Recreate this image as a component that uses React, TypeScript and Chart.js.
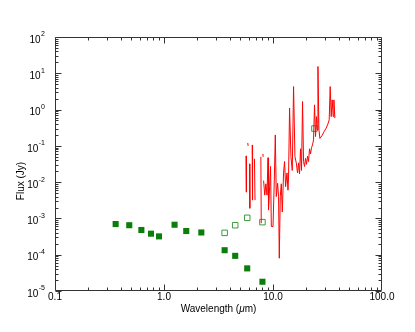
import React, { useEffect, useRef } from "react";
import { Chart, registerables } from "chart.js";

Chart.register(...registerables);

// Filled photometry (µm, Jy)
const photWave = [0.36, 0.48, 0.62, 0.76, 0.9, 1.25, 1.6, 2.2, 3.6, 4.5, 5.8, 8.0];
const photFlux = [7.0e-4, 6.5e-4, 4.8e-4, 3.8e-4, 3.2e-4, 6.7e-4, 4.5e-4, 4.1e-4, 1.33e-4, 9.3e-5, 4.2e-5, 1.8e-5];

// Open photometry (µm, Jy)
const openWave = [3.6, 4.5, 5.8, 8.0, 24.0];
const openFlux = [4.0e-4, 6.5e-4, 1.04e-3, 7.9e-4, 0.3];

// Spectrum (µm, Jy); null = gap
const specWave = [
  5.66, 5.7, 5.78, 5.87, 5.91, 6.0, 6.09, 6.13, 6.3, 6.44, 6.49, 6.6, 6.76, 6.84, 7.3,
  7.74, 7.8, 7.95, 8.08, 8.12, 8.16,
  8.2, 8.4, 8.6, 8.81, 9.0, 9.1, 9.31, 9.5, 9.65, 10.0, 10.28, 10.5, 10.72, 11.02, 11.25,
  11.42, 11.66, 11.91, 12.17, 12.5, 12.77, 13.05, 13.44, 13.72, 13.89, 14.19, 14.61, 15.02,
  15.44, 15.9, 16.35, 16.8, 17.16, 17.52, 17.89, 18.27, 18.67, 19.06, 19.47, 19.88, 20.31,
  20.74, 21.18, 21.63, 22.1, 22.57, 23.05, 23.54, 24.04, 24.55, 25.08, 25.45, 25.84, 26.39,
  26.95, 28.11, 29.5, 30.77, 31.89, 32.78, 33.47, 34.19, 34.92, 35.67, 36.2, 36.97,
];
const specFlux = [
  0.053, 0.0053, null, 0.12, 0.1, null, 0.032, 0.0019, null, 0.106, 0.0032, null, 0.044, 0.0032, null,
  0.05, 0.00074, null, 0.06, 0.05, null,
  0.011, 0.0044, 0.009, 0.0044, 0.047, 0.0017, 0.0075, 0.027, 0.0006, 0.0006, 0.0114, 0.2, 0.004, 0.0093, 0.004,
  8e-5, 0.004, 0.009, 0.0015, 0.018, 0.037, 0.0075, 0.018, 0.006, 0.0139, 1.11, 0.05, 0.021,
  4.3, 0.05, 0.034, 0.018, 0.034, 0.0169, 0.083, 0.021, 1.66, 0.037, 0.027, 0.045, 0.031,
  0.052, 0.037, 0.083, 0.06, 0.09, 0.106, 0.146, 1.35, 0.18, 0.64, 0.275, 15.4, 0.275,
  0.16, 0.19, 0.25, 0.31, 0.4, 0.52, 4.3, 0.64, 1.85, 0.64, 1.85, 0.58,
];

const xTickValues = [0.1, 1, 10, 100];
const xTickLabels = ["0.1", "1.0", "10.0", "100.0"];
const yTickExponents = [2, 1, 0, -1, -2, -3, -4, -5];

const FONT = '"Liberation Sans", Arial, Helvetica, sans-serif';

export default function App() {
  const ref = useRef<HTMLCanvasElement>(null);

  useEffect(() => {
    const frame = {
      id: "idlFrame",
      afterDatasetsDraw(chart: any) {
        const { ctx, chartArea: a, scales } = chart;
        const xs = scales.x;
        const ys = scales.y;
        ctx.save();
        ctx.strokeStyle = "#333";
        ctx.lineWidth = 1;
        const L = Math.round(a.left) + 0.5;
        const R = Math.round(a.right) - 0.5;
        const T = Math.round(a.top) + 0.5;
        const B = Math.round(a.bottom) - 0.5;
        ctx.beginPath();
        ctx.rect(L, T, R - L, B - T);
        ctx.stroke();

        ctx.beginPath();
        for (let d = -1; d <= 1; d++) {
          for (let k = 1; k <= 9; k++) {
            const v = k * Math.pow(10, d);
            const px = Math.round(xs.getPixelForValue(v)) + 0.5;
            const len = k === 1 ? 6 : 3;
            ctx.moveTo(px, B);
            ctx.lineTo(px, B - len);
            ctx.moveTo(px, T);
            ctx.lineTo(px, T + len);
          }
        }
        for (let d = -5; d <= 1; d++) {
          for (let k = 1; k <= 9; k++) {
            const v = k * Math.pow(10, d);
            const py = Math.round(ys.getPixelForValue(v)) + 0.5;
            const len = k === 1 ? 6 : 3;
            ctx.moveTo(L, py);
            ctx.lineTo(L + len, py);
            ctx.moveTo(R, py);
            ctx.lineTo(R - len, py);
          }
        }
        ctx.stroke();

        ctx.fillStyle = "#000";
        // x tick labels
        ctx.font = `10px ${FONT}`;
        ctx.textAlign = "center";
        ctx.textBaseline = "middle";
        xTickValues.forEach((v, i) => {
          ctx.fillText(xTickLabels[i], xs.getPixelForValue(v), a.bottom + 6.5);
        });

        // y tick labels 10^n
        const right = a.left - 10;
        yTickExponents.forEach((e) => {
          const py = ys.getPixelForValue(Math.pow(10, e));
          const expText = String(e);
          ctx.font = `7px ${FONT}`;
          const wExp = ctx.measureText(expText).width;
          ctx.font = `10px ${FONT}`;
          const wBase = ctx.measureText("10").width;
          ctx.textAlign = "left";
          ctx.textBaseline = "middle";
          ctx.fillText("10", right - wExp - wBase - 0.5, py + 3);
          ctx.font = `7px ${FONT}`;
          ctx.fillText(expText, right - wExp, py - 2.5);
        });

        // x title with italic mu
        const parts = [
          { t: "Wavelength (", f: `10px ${FONT}` },
          { t: "\u03bc", f: `italic 10px ${FONT}` },
          { t: "m)", f: `10px ${FONT}` },
        ];
        let total = 0;
        parts.forEach((p) => {
          ctx.font = p.f;
          total += ctx.measureText(p.t).width;
        });
        let cx = (a.left + a.right) / 2 - total / 2;
        ctx.textAlign = "left";
        parts.forEach((p) => {
          ctx.font = p.f;
          ctx.fillText(p.t, cx, a.bottom + 18.5);
          cx += ctx.measureText(p.t).width;
        });

        // y title
        ctx.save();
        ctx.translate(21, 181);
        ctx.rotate(-Math.PI / 2);
        ctx.font = `10px ${FONT}`;
        ctx.textAlign = "center";
        ctx.textBaseline = "middle";
        ctx.fillText("Flux (Jy)", 0, 0);
        ctx.restore();

        ctx.restore();
      },
    };

    const chart = new Chart(ref.current as HTMLCanvasElement, {
      type: "line",
      data: {
        datasets: [
          {
            label: "Spectrum",
            data: specWave.map((w, i) => ({ x: w, y: specFlux[i] as any })),
            borderColor: "rgb(255,0,0)",
            borderWidth: 1,
            pointRadius: 0,
            spanGaps: false,
            tension: 0,
            fill: false,
          },
          {
            label: "Photometry",
            data: photWave.map((w, i) => ({ x: w, y: photFlux[i] })),
            showLine: false,
            pointStyle: "rect",
            pointRadius: 4.3,
            backgroundColor: "#0a7d0a",
            borderColor: "#0a7d0a",
            borderWidth: 0,
          },
          {
            label: "Open",
            data: openWave.map((w, i) => ({ x: w, y: openFlux[i] })),
            showLine: false,
            pointStyle: "rect",
            pointRadius: 3.9,
            backgroundColor: "rgba(0,0,0,0)",
            borderColor: "#3d9a3d",
            borderWidth: 1,
          },
        ],
      },
      options: {
        animation: false,
        responsive: false,
        devicePixelRatio: 1,
        events: [],
        layout: { padding: { left: 55, top: 37, right: 33, bottom: 41 } },
        plugins: { legend: { display: false }, tooltip: { enabled: false } },
        scales: {
          x: { type: "logarithmic", min: 0.1, max: 100, display: false },
          y: { type: "logarithmic", min: 1e-5, max: 100, display: false },
        },
      },
      plugins: [frame],
    } as any);
    return () => chart.destroy();
  }, []);

  return (
    <div style={{ position: "fixed", left: 0, top: 0, width: 415, height: 332, background: "#fff" }}>
      <canvas ref={ref} width={415} height={332} style={{ width: 415, height: 332, display: "block" }} />
    </div>
  );
}
